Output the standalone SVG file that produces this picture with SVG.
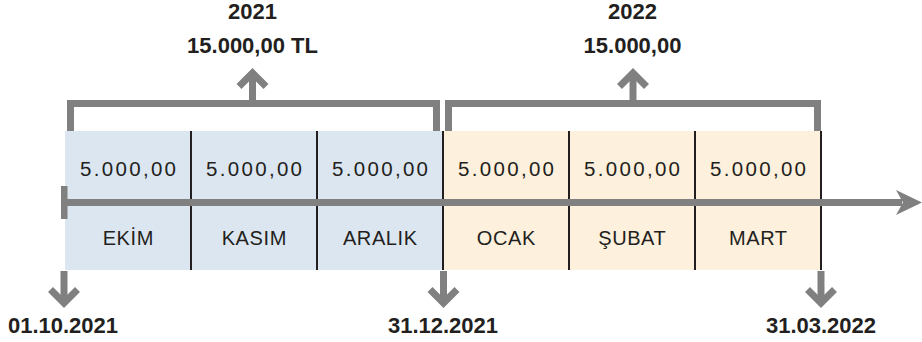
<svg xmlns="http://www.w3.org/2000/svg" width="922" height="342" viewBox="0 0 922 342">
  <defs>
    <style>
      .blue { fill: #dce6f1; }
      .orange { fill: #fdf0dc; }
      .div { stroke: #231f20; stroke-width: 2; fill: none; }
      .gray { stroke: #808080; stroke-width: 7; fill: none; stroke-linejoin: miter; stroke-miterlimit: 10; }
      .num { font-family: "Liberation Sans", Arial, sans-serif; font-size: 20.5px; fill: #231f20; text-anchor: middle; letter-spacing: 2.3px; }
      .mon { font-family: "Liberation Sans", Arial, sans-serif; font-size: 20px; fill: #231f20; text-anchor: middle; letter-spacing: 0.6px; }
      .lbl { font-family: "Liberation Sans", Arial, sans-serif; font-size: 22px; font-weight: bold; fill: #231f20; text-anchor: middle; }
    </style>
  </defs>

  <g id="period-2021">
    <rect class="blue" x="65" y="131" width="378" height="139"/>
  </g>
  <g id="period-2022">
    <rect class="orange" x="443" y="131" width="378" height="139"/>
  </g>

  <g id="cell-ekim">
    <text class="num" x="129.2" y="176">5.000,00</text>
    <text class="mon" x="128.3" y="245">EKİM</text>
  </g>
  <g id="cell-kasim">
    <text class="num" x="255.2" y="176">5.000,00</text>
    <text class="mon" x="254.3" y="245">KASIM</text>
  </g>
  <g id="cell-aralik">
    <text class="num" x="381.2" y="176">5.000,00</text>
    <text class="mon" x="380.3" y="245">ARALIK</text>
  </g>
  <g id="cell-ocak">
    <text class="num" x="507.2" y="176">5.000,00</text>
    <text class="mon" x="506.3" y="245">OCAK</text>
  </g>
  <g id="cell-subat">
    <text class="num" x="633.2" y="176">5.000,00</text>
    <text class="mon" x="632.3" y="245">ŞUBAT</text>
  </g>
  <g id="cell-mart">
    <text class="num" x="759.2" y="176">5.000,00</text>
    <text class="mon" x="758.3" y="245">MART</text>
  </g>

  <g id="dividers">
    <line class="div" x1="191" y1="131" x2="191" y2="270"/>
    <line class="div" x1="317" y1="131" x2="317" y2="270"/>
    <line class="div" x1="443" y1="131" x2="443" y2="270"/>
    <line class="div" x1="569" y1="131" x2="569" y2="270"/>
    <line class="div" x1="695" y1="131" x2="695" y2="270"/>
    <line class="div" x1="821" y1="131" x2="821" y2="270"/>
  </g>

  <g id="connectors">
    <!-- timeline -->
    <line class="gray" x1="64" y1="202.5" x2="902" y2="202.5"/>
    <rect x="61" y="186" width="6.5" height="33" fill="#808080"/>
    <polygon points="896,190 922,202.5 896,215 903,202.5" fill="#808080"/>
    <!-- brackets -->
    <path class="gray" d="M70.5,131 V103.5 H436.5 V131"/>
    <path class="gray" d="M448.5,131 V103.5 H817.5 V131"/>
    <!-- up arrows -->
    <line class="gray" x1="252.5" y1="103.5" x2="252.5" y2="74"/>
    <polyline class="gray" points="239,86.5 252.5,73 266,86.5"/>
    <line class="gray" x1="633" y1="103.5" x2="633" y2="74"/>
    <polyline class="gray" points="619.5,86.5 633,73 646.5,86.5"/>
    <!-- down arrows -->
    <line class="gray" x1="64" y1="271" x2="64" y2="302"/>
    <polyline class="gray" points="50.5,289.5 64,303 77.5,289.5"/>
    <line class="gray" x1="443.5" y1="271" x2="443.5" y2="302"/>
    <polyline class="gray" points="430,289.5 443.5,303 457,289.5"/>
    <line class="gray" x1="821" y1="271" x2="821" y2="302"/>
    <polyline class="gray" points="807.5,289.5 821,303 834.5,289.5"/>
  </g>

  <g id="label-2021">
    <text class="lbl" x="252.5" y="19">2021</text>
    <text class="lbl" x="252.5" y="53">15.000,00 TL</text>
  </g>
  <g id="label-2022">
    <text class="lbl" x="632.5" y="19">2022</text>
    <text class="lbl" x="632.5" y="53">15.000,00</text>
  </g>
  <g id="date-start">
    <text class="lbl" x="63" y="333">01.10.2021</text>
  </g>
  <g id="date-mid">
    <text class="lbl" x="443" y="333">31.12.2021</text>
  </g>
  <g id="date-end">
    <text class="lbl" x="821" y="333">31.03.2022</text>
  </g>
</svg>
